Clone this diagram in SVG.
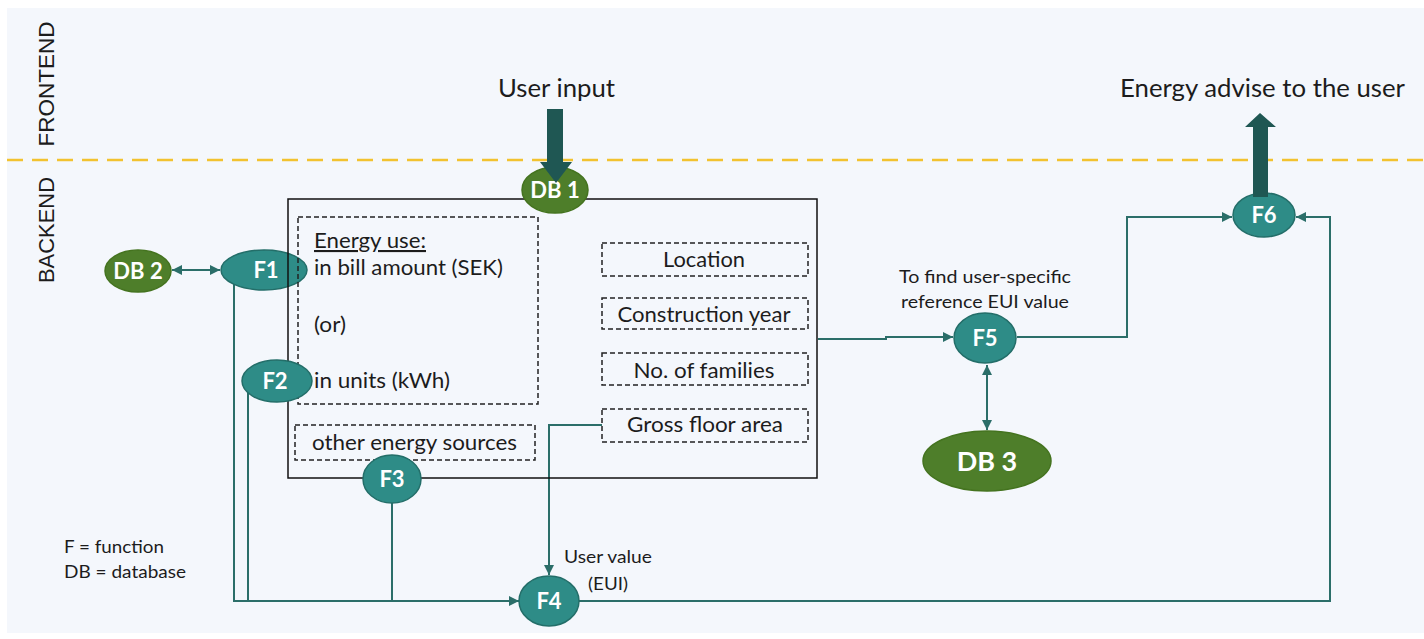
<svg xmlns="http://www.w3.org/2000/svg" width="1424" height="639" viewBox="0 0 1424 639">
<style>
.t{font-family:Lato,"Open Sans","Liberation Sans",sans-serif;fill:#1c1c1c;font-size:21px}
.s{font-size:17px}
.big{font-size:25px}
.m{text-anchor:middle}
.lbl{font-family:Lato,"Open Sans","Liberation Sans",sans-serif;font-weight:bold;fill:#ffffff;text-anchor:middle;font-size:22px}
.fn{fill:#2E8C87;stroke:#236E69;stroke-width:1.5}
.db{fill:#4E7E2A;stroke:#44731F;stroke-width:1.5}
.c{fill:none;stroke:#2B6E69;stroke-width:2}
.dash{fill:none;stroke:#222222;stroke-width:1.5;stroke-dasharray:5 3}
.thick{fill:#1F5753}
.side{font-family:"Liberation Sans",Arial,sans-serif;fill:#1c1c1c;font-size:22px;text-anchor:middle}
</style>
<defs>
<marker id="ah" viewBox="0 0 10 10" refX="10" refY="5" markerWidth="10" markerHeight="10" markerUnits="userSpaceOnUse" orient="auto-start-reverse">
<path d="M0 0 L10 5 L0 10 Z" fill="#2B6E69"/>
</marker>
</defs>
<rect x="0" y="0" width="1424" height="639" fill="#ffffff"/>
<rect x="7" y="8" width="1417" height="625" fill="#F4F7FC"/>
<path d="M7 160 H1424" stroke="#F2C230" stroke-width="2.5" stroke-dasharray="16 9" fill="none"/>
<text class="side" transform="translate(54 84) rotate(-90)" textLength="125" lengthAdjust="spacingAndGlyphs">FRONTEND</text>
<text class="side" transform="translate(54 230) rotate(-90)" textLength="106" lengthAdjust="spacingAndGlyphs">BACKEND</text>
<text class="t big" x="498" y="97" textLength="117" lengthAdjust="spacingAndGlyphs">User input</text>
<text class="t big" x="1120" y="97" textLength="285" lengthAdjust="spacingAndGlyphs">Energy advise to the user</text>
<text class="t s m" x="985" y="283" textLength="172" lengthAdjust="spacingAndGlyphs">To find user-specific</text>
<text class="t s m" x="985" y="308" textLength="168" lengthAdjust="spacingAndGlyphs">reference EUI value</text>
<text class="t s" x="564" y="563" textLength="88" lengthAdjust="spacingAndGlyphs">User value</text>
<text class="t s" x="588" y="590" textLength="40" lengthAdjust="spacingAndGlyphs">(EUI)</text>
<text class="t s" x="64" y="553" textLength="100" lengthAdjust="spacingAndGlyphs">F = function</text>
<text class="t s" x="64" y="578" textLength="122" lengthAdjust="spacingAndGlyphs">DB = database</text>
<g id="connectors">
<path class="c" d="M172 270 H220" marker-start="url(#ah)" marker-end="url(#ah)"/>
<path class="c" d="M234 284 V601 H519" marker-end="url(#ah)"/>
<path class="c" d="M248 393 V601"/>
<path class="c" d="M392 503 V601"/>
<path class="c" d="M602 425 H549 V575" marker-end="url(#ah)"/>
<path class="c" d="M579 601 H1330 V217 H1296" marker-end="url(#ah)"/>
<path class="c" d="M818 339 H886 V337 H953" marker-end="url(#ah)"/>
<path class="c" d="M1017 337 H1127 V217 H1232" marker-end="url(#ah)"/>
<path class="c" d="M987 365 V430" marker-start="url(#ah)" marker-end="url(#ah)"/>
</g>
<g id="F1"><ellipse class="fn" cx="264" cy="270" rx="43" ry="20"/><text class="lbl" x="266" y="278">F1</text></g>
<g id="input-box">
<rect x="288" y="199" width="529" height="279" fill="none" stroke="#111111" stroke-width="1.5"/>
<rect class="dash" x="298" y="217" width="240" height="187"/>
<rect class="dash" x="295" y="425" width="240" height="35"/>
<rect class="dash" x="602" y="243" width="206" height="33"/>
<rect class="dash" x="602" y="298" width="206" height="31"/>
<rect class="dash" x="602" y="353" width="206" height="32"/>
<rect class="dash" x="602" y="409" width="206" height="33"/>
<text class="t" x="314" y="248" textLength="112" lengthAdjust="spacingAndGlyphs" text-decoration="underline">Energy use:</text>
<text class="t" x="314" y="275" textLength="189" lengthAdjust="spacingAndGlyphs">in bill amount (SEK)</text>
<text class="t" x="314" y="332" textLength="32" lengthAdjust="spacingAndGlyphs">(or)</text>
<text class="t" x="314" y="388" textLength="136" lengthAdjust="spacingAndGlyphs">in units (kWh)</text>
<text class="t" x="312" y="450" textLength="205" lengthAdjust="spacingAndGlyphs">other energy sources</text>
<text class="t m" x="704" y="267" textLength="82" lengthAdjust="spacingAndGlyphs">Location</text>
<text class="t m" x="704" y="322" textLength="173" lengthAdjust="spacingAndGlyphs">Construction year</text>
<text class="t m" x="704" y="378" textLength="141" lengthAdjust="spacingAndGlyphs">No. of families</text>
<text class="t m" x="705" y="432" textLength="156" lengthAdjust="spacingAndGlyphs">Gross floor area</text>
</g>
<g id="F2"><ellipse class="fn" cx="277" cy="381" rx="35" ry="21"/><text class="lbl" x="275" y="389">F2</text></g>
<g id="F3"><ellipse class="fn" cx="392" cy="479" rx="29" ry="24"/><text class="lbl" x="392" y="487">F3</text></g>
<g id="F4"><ellipse class="fn" cx="549" cy="601" rx="30" ry="25"/><text class="lbl" x="549" y="609">F4</text></g>
<g id="F5"><ellipse class="fn" cx="985" cy="338" rx="31" ry="25"/><text class="lbl" x="985" y="346">F5</text></g>
<g id="F6"><ellipse class="fn" cx="1264" cy="215" rx="31" ry="22"/><text class="lbl" x="1264" y="223">F6</text></g>
<g id="DB1"><ellipse class="db" cx="555" cy="190" rx="33" ry="23"/><text class="lbl" x="555" y="198">DB 1</text></g>
<g id="DB2"><ellipse class="db" cx="138" cy="271" rx="33" ry="21"/><text class="lbl" x="138" y="279">DB 2</text></g>
<g id="DB3"><ellipse class="db" cx="987" cy="461" rx="64" ry="30"/><text class="lbl" x="987" y="471" style="font-size:27px">DB 3</text></g>
<g id="io-arrows">
<path class="thick" d="M547 109 H563 V162 H572 L556 183 L540 162 H547 Z"/>
<path class="thick" d="M1253 197 V127 H1245 L1260 113 L1276 127 H1268 V197 Z"/>
</g>
</svg>
